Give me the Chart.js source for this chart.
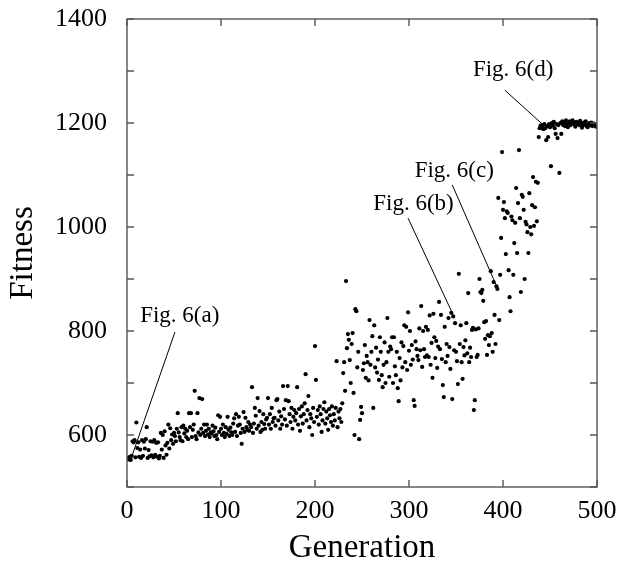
<!DOCTYPE html>
<html><head><meta charset="utf-8">
<script src="https://cdn.jsdelivr.net/npm/chart.js@4.4.1/dist/chart.umd.min.js"></script>
<style>html,body{margin:0;padding:0;background:#fff}#wrap{width:618px;height:565px}</style>
</head><body><div id="wrap"><canvas id="c" width="618" height="565"></canvas></div>
<script>
// Fitness of the best individual, one value per generation (0..499)
const fitness = [
  556, 555, 553, 558, 552, 560, 588, 586, 590, 557,
  624, 575, 586, 558, 572, 556, 590, 560, 587, 574,
  592, 615, 556, 571, 559, 588, 561, 587, 557, 590,
  562, 585, 558, 586, 555, 560, 604, 572, 600, 556,
  607, 580, 562, 585, 620, 574, 613, 590, 601, 583,
  604, 598, 588, 612, 642, 605, 596, 590, 615, 588,
  618, 603, 612, 596, 608, 592, 642, 615, 642, 596,
  610, 620, 685, 598, 592, 642, 605, 671, 600, 612,
  669, 604, 620, 598, 608, 620, 601, 612, 596, 605,
  603, 618, 607, 598, 614, 600, 592, 638, 606, 635,
  612, 600, 620, 604, 596, 615, 602, 635, 610, 598,
  614, 605, 600, 622, 632, 606, 640, 598, 618, 635,
  620, 604, 583, 612, 644, 606, 633, 615, 610, 625,
  608, 620, 615, 692, 604, 622, 652, 637, 612, 671,
  618, 646, 606, 625, 610, 640, 621, 612, 630, 633,
  671, 620, 640, 612, 652, 625, 632, 633, 618, 667,
  669, 628, 645, 612, 636, 620, 694, 650, 630, 667,
  618, 694, 665, 640, 625, 652, 612, 635, 648, 628,
  642, 692, 620, 650, 608, 636, 655, 622, 640, 661,
  717, 628, 648, 675, 615, 640, 632, 600, 652, 625,
  771, 706, 635, 648, 620, 655, 640, 606, 628, 650,
  663, 622, 645, 632, 610, 650, 638, 625, 655, 618,
  640, 628, 652, 742, 615, 645, 632, 650, 625, 661,
  719, 740, 685, 896, 767, 794, 783, 744, 700, 775,
  796, 681, 600, 842, 838, 730, 760, 592, 629, 654,
  642, 725, 738, 773, 710, 752, 740, 705, 821, 735,
  760, 790, 652, 811, 730, 768, 720, 745, 706, 788,
  760, 715, 692, 735, 778, 700, 740, 825, 760, 712,
  770, 765, 788, 700, 788, 732, 715, 760, 690, 665,
  748, 705, 778, 730, 771, 811, 740, 808, 725, 836,
  762, 800, 735, 773, 745, 667, 656, 780, 765, 752,
  744, 805, 763, 848, 731, 800, 765, 750, 808, 753,
  802, 750, 830, 735, 777, 710, 833, 788, 748, 781,
  729, 770, 856, 765, 831, 746, 696, 673, 808, 740,
  775, 752, 825, 769, 727, 835, 669, 828, 763, 815,
  760, 742, 698, 910, 775, 811, 740, 708, 769, 753,
  782, 815, 757, 873, 740, 768, 750, 802, 806, 648,
  667, 803, 750, 754, 805, 900, 875, 873, 879, 858,
  817, 785, 819, 754, 792, 773, 790, 915, 796, 760,
  894, 831, 775, 886, 881, 1056, 821, 908, 979, 1144,
  1033, 1048, 1017, 948, 1030, 1027, 917, 865, 838, 1020,
  1013, 908, 969, 1008, 1075, 950, 1046, 1148, 1017, 875,
  1062, 1058, 1033, 900, 1010, 1005, 990, 950, 1065, 1000,
  986, 1042, 1096, 1002, 1038, 1087, 1011, 1085, 1173, 1190,
  1195, 1192, 1196, 1188, 1198, 1190, 1167, 1194, 1173, 1198,
  1192, 1117, 1200, 1195, 1202, 1190, 1179, 1198, 1171, 1196,
  1104, 1200, 1179, 1203, 1196, 1201, 1194, 1205, 1198, 1192,
  1200, 1203, 1196, 1199, 1205, 1201, 1197, 1193, 1202, 1198,
  1200, 1196, 1204, 1199, 1191, 1195, 1201, 1197, 1203, 1194,
  1192, 1198, 1200, 1196, 1201, 1194, 1197, 1199, 1195, 1193
];
const generations = fitness.map((_, i) => i);

const xTickValues = [0, 100, 200, 300, 400, 500];
const yTickLabels = [600, 800, 1000, 1200, 1400];

// Callout labels: text, label anchor (generation, fitness), leader line start and end
const calloutTexts = ['Fig. 6(a)', 'Fig. 6(b)', 'Fig. 6(c)', 'Fig. 6(d)'];
const calloutLabelAt = [[14, 817], [262, 1033], [306, 1096], [368, 1290]];
const calloutLineFrom = [[51, 798], [299, 1017], [346, 1081], [402, 1263]];
const calloutLineTo = [[5, 558], [347, 831], [395, 879], [443, 1196]];

const SERIF = '"Liberation Serif", "Times New Roman", serif';

const framePlugin = {
  id: 'frame',
  afterDatasetsDraw(chart) {
    const {ctx, chartArea: a, scales: {x, y}} = chart;
    ctx.save();
    ctx.strokeStyle = '#555';
    ctx.lineWidth = 1.4;
    ctx.strokeRect(a.left, a.top, a.right - a.left, a.bottom - a.top);
    const L = 7;
    ctx.beginPath();
    x.ticks.forEach(t => {
      const px = x.getPixelForValue(t.value);
      ctx.moveTo(px, a.bottom); ctx.lineTo(px, a.bottom - L);
      ctx.moveTo(px, a.top); ctx.lineTo(px, a.top + L);
    });
    y.ticks.forEach(t => {
      const py = y.getPixelForValue(t.value);
      ctx.moveTo(a.left, py); ctx.lineTo(a.left + L, py);
      ctx.moveTo(a.right, py); ctx.lineTo(a.right - L, py);
    });
    ctx.stroke();

    ctx.fillStyle = '#000';
    ctx.strokeStyle = '#000';
    ctx.lineWidth = 1;
    ctx.font = '23px ' + SERIF;
    ctx.textAlign = 'left';
    ctx.textBaseline = 'alphabetic';
    calloutTexts.forEach((txt, i) => {
      ctx.fillText(txt, x.getPixelForValue(calloutLabelAt[i][0]), y.getPixelForValue(calloutLabelAt[i][1]));
      ctx.beginPath();
      ctx.moveTo(x.getPixelForValue(calloutLineFrom[i][0]), y.getPixelForValue(calloutLineFrom[i][1]));
      ctx.lineTo(x.getPixelForValue(calloutLineTo[i][0]), y.getPixelForValue(calloutLineTo[i][1]));
      ctx.stroke();
    });
    ctx.restore();
  }
};

new Chart(document.getElementById('c'), {
  type: 'scatter',
  data: {
    datasets: [{
      label: 'Fitness',
      data: generations.map((g, i) => ({x: g, y: fitness[i]})),
      backgroundColor: '#000',
      borderColor: '#000',
      borderWidth: 0,
      pointRadius: 2.1,
      pointHoverRadius: 2.1
    }]
  },
  options: {
    responsive: false,
    devicePixelRatio: 1,
    animation: false,
    layout: {padding: {top: 19, right: 21, left: 0, bottom: 0}, autoPadding: false},
    plugins: {legend: {display: false}, tooltip: {enabled: false}},
    scales: {
      x: {
        type: 'linear', min: 0, max: 500,
        grid: {display: false, drawTicks: true, tickLength: 9},
        border: {display: false},
        afterBuildTicks: s => { s.ticks = xTickValues.map(v => ({value: v})); },
        ticks: {color: '#000', font: {family: SERIF, size: 26}, padding: 0, maxRotation: 0, autoSkip: false},
        title: {display: true, text: 'Generation', color: '#000', font: {family: SERIF, size: 33, lineHeight: 1}, padding: {top: 0, bottom: 0}},
        afterFit: s => { s.height = 78; }
      },
      y: {
        type: 'linear', min: 500, max: 1400,
        grid: {display: false, drawTicks: true, tickLength: 20},
        border: {display: false},
        ticks: {stepSize: 100, color: '#000', font: {family: SERIF, size: 26}, padding: 0, autoSkip: false,
          callback: v => yTickLabels.includes(v) ? String(v) : ''},
        title: {display: true, text: 'Fitness', color: '#000', font: {family: SERIF, size: 33, lineHeight: 1}, padding: {top: 7, bottom: 0}},
        afterFit: s => { s.width = 127; }
      }
    }
  },
  plugins: [framePlugin]
});
</script>
</body></html>
